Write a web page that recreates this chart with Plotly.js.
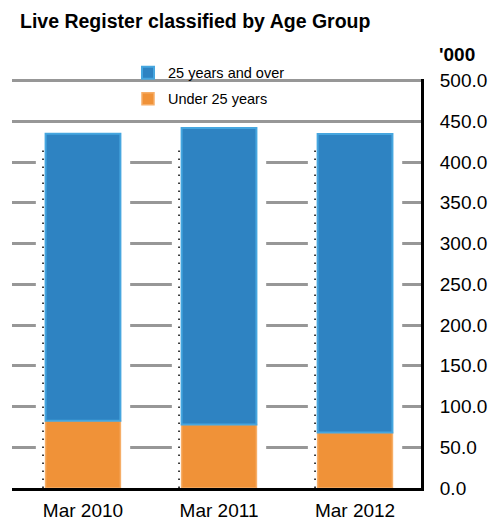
<!DOCTYPE html>
<html>
<head>
<meta charset="utf-8">
<script src="https://cdn.plot.ly/plotly-3.0.1.min.js"></script>
<style>html,body{margin:0;padding:0;background:#fff;}#chart{width:491px;height:520px;}</style>
</head>
<body>
<div id="chart"></div>
<script>
// ---- data ('000) ----
const categories = ["Mar 2010", "Mar 2011", "Mar 2012"];
const under25 = [82.4, 77.9, 68.1];
const over25 = [352.4, 363.9, 366.5];
const yTickVals = [0, 50, 100, 150, 200, 250, 300, 350, 400, 450, 500];
const yTickText = ["0.0", "50.0", "100.0", "150.0", "200.0", "250.0", "300.0", "350.0", "400.0", "450.0", "500.0"];

const totals = under25.map((u, i) => u + over25[i]);
const FONT = "Liberation Sans, Arial, sans-serif";

const halo = {
  type: "bar", x: categories, y: totals, base: 0,
  width: 0.62,
  marker: { color: "#ffffff", line: { color: "#ffffff", width: 10 } },
  showlegend: false, hoverinfo: "skip"
};
const orange = {
  type: "bar", name: "Under 25 years", x: categories, y: under25, base: 0,
  width: 0.55, legendrank: 2, legendgroup: "b",
  marker: { color: "#f09238", line: { color: "#f6ae68", width: 1.5 } }
};
const blue = {
  type: "bar", name: "25 years and over", x: categories, y: over25, base: under25,
  width: 0.55, legendrank: 1, legendgroup: "a",
  marker: { color: "#2e83c2", line: { color: "#46a6df", width: 2 } }
};

const shapes = categories.map((c, i) => ({
  type: "line", xref: "x", yref: "y",
  x0: i - 0.294, x1: i - 0.294, y0: 0, y1: totals[i] - 20,
  line: { color: "#111", width: 1.6, dash: "1.6px,6.4px" }, layer: "above"
}));

const layout = {
  width: 491, height: 520,
  margin: { l: 12, r: 70, t: 79, b: 32, pad: 0 },
  paper_bgcolor: "#fff", plot_bgcolor: "#fff",
  barmode: "overlay",
  font: { family: FONT, color: "#000" },
  title: {
    text: "<b>Live Register classified by Age Group</b>",
    font: { family: FONT, size: 19.5, color: "#000" },
    xref: "container", yref: "container",
    x: 20 / 491, xanchor: "left", y: 1 - 21 / 520, yanchor: "middle"
  },
  xaxis: {
    type: "category", range: [-0.522, 2.485], autorange: false,
    showgrid: false, zeroline: false,
    showline: true, linecolor: "#000", linewidth: 3,
    ticks: "", ticklabelstandoff: 3,
    tickfont: { family: FONT, size: 19, color: "#000" }
  },
  yaxis: {
    side: "right", range: [0, 502], autorange: false,
    tickvals: yTickVals, ticktext: yTickText,
    showgrid: true, gridcolor: "#979797", gridwidth: 3,
    zeroline: false, showline: true, linecolor: "#000", linewidth: 3,
    ticks: "", ticklabelstandoff: 12,
    tickfont: { family: FONT, size: 19, color: "#000" }
  },
  legend: {
    x: 0.2836, xanchor: "left", y: 1.054, yanchor: "top",
    bgcolor: "rgba(0,0,0,0)", borderwidth: 0,
    font: { family: FONT, size: 14.5, color: "#000" },
    tracegroupgap: 4, itemwidth: 30
  },
  annotations: [{
    text: "<b>'000</b>", xref: "paper", yref: "paper",
    x: (437 - 12) / 409, xanchor: "left", y: (488 - 54) / 409, yanchor: "middle",
    showarrow: false, font: { family: FONT, size: 19, color: "#000" }
  }],
  shapes: shapes
};

Plotly.newPlot("chart", [halo, orange, blue], layout, { displayModeBar: false, staticPlot: true });
</script>
</body>
</html>
